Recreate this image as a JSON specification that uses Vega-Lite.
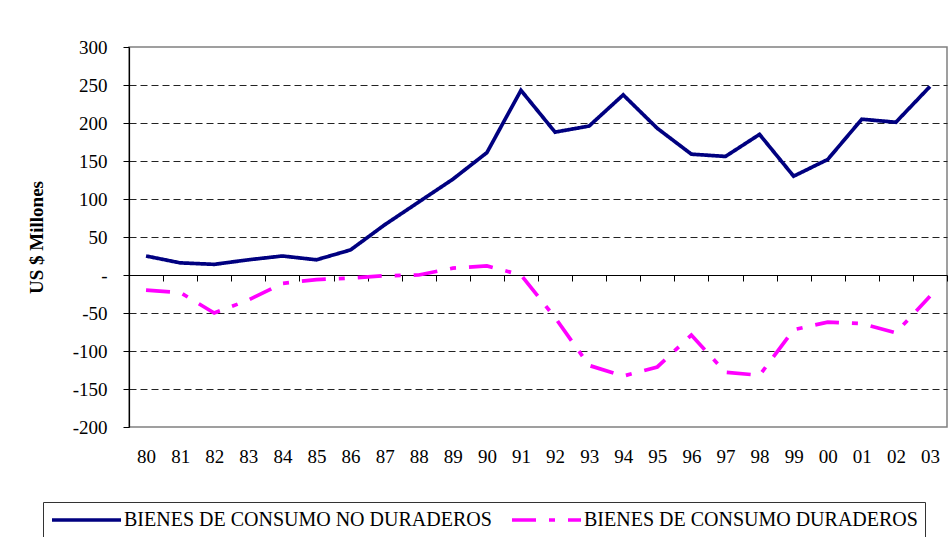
{
  "$schema": "https://vega.github.io/schema/vega-lite/v6.json",
  "width": 818,
  "height": 380,
  "autosize": {"type": "none"},
  "padding": {"left": 129, "top": 47, "right": 3, "bottom": 110},
  "background": "white",
  "config": {
    "view": {"stroke": "#808080", "strokeWidth": 1.5},
    "font": "Liberation Serif",
    "legend": {"labelFont": "Liberation Serif"},
    "axis": {"labelFont": "Liberation Serif", "titleFont": "Liberation Serif"}
  },
  "data": {
    "values": [
      {"yr": "80", "s": "BIENES DE CONSUMO NO DURADEROS", "v": 25},
      {"yr": "81", "s": "BIENES DE CONSUMO NO DURADEROS", "v": 16},
      {"yr": "82", "s": "BIENES DE CONSUMO NO DURADEROS", "v": 14},
      {"yr": "83", "s": "BIENES DE CONSUMO NO DURADEROS", "v": 20},
      {"yr": "84", "s": "BIENES DE CONSUMO NO DURADEROS", "v": 25},
      {"yr": "85", "s": "BIENES DE CONSUMO NO DURADEROS", "v": 20},
      {"yr": "86", "s": "BIENES DE CONSUMO NO DURADEROS", "v": 33},
      {"yr": "87", "s": "BIENES DE CONSUMO NO DURADEROS", "v": 66},
      {"yr": "88", "s": "BIENES DE CONSUMO NO DURADEROS", "v": 96},
      {"yr": "89", "s": "BIENES DE CONSUMO NO DURADEROS", "v": 126},
      {"yr": "90", "s": "BIENES DE CONSUMO NO DURADEROS", "v": 161},
      {"yr": "91", "s": "BIENES DE CONSUMO NO DURADEROS", "v": 243},
      {"yr": "92", "s": "BIENES DE CONSUMO NO DURADEROS", "v": 188},
      {"yr": "93", "s": "BIENES DE CONSUMO NO DURADEROS", "v": 196},
      {"yr": "94", "s": "BIENES DE CONSUMO NO DURADEROS", "v": 237},
      {"yr": "95", "s": "BIENES DE CONSUMO NO DURADEROS", "v": 193},
      {"yr": "96", "s": "BIENES DE CONSUMO NO DURADEROS", "v": 159},
      {"yr": "97", "s": "BIENES DE CONSUMO NO DURADEROS", "v": 156},
      {"yr": "98", "s": "BIENES DE CONSUMO NO DURADEROS", "v": 185},
      {"yr": "99", "s": "BIENES DE CONSUMO NO DURADEROS", "v": 130},
      {"yr": "00", "s": "BIENES DE CONSUMO NO DURADEROS", "v": 152},
      {"yr": "01", "s": "BIENES DE CONSUMO NO DURADEROS", "v": 205},
      {"yr": "02", "s": "BIENES DE CONSUMO NO DURADEROS", "v": 201},
      {"yr": "03", "s": "BIENES DE CONSUMO NO DURADEROS", "v": 248},
      {"yr": "80", "s": "BIENES DE CONSUMO DURADEROS", "v": -20},
      {"yr": "81", "s": "BIENES DE CONSUMO DURADEROS", "v": -23},
      {"yr": "82", "s": "BIENES DE CONSUMO DURADEROS", "v": -50},
      {"yr": "83", "s": "BIENES DE CONSUMO DURADEROS", "v": -33},
      {"yr": "84", "s": "BIENES DE CONSUMO DURADEROS", "v": -11},
      {"yr": "85", "s": "BIENES DE CONSUMO DURADEROS", "v": -6},
      {"yr": "86", "s": "BIENES DE CONSUMO DURADEROS", "v": -4},
      {"yr": "87", "s": "BIENES DE CONSUMO DURADEROS", "v": -1},
      {"yr": "88", "s": "BIENES DE CONSUMO DURADEROS", "v": 0},
      {"yr": "89", "s": "BIENES DE CONSUMO DURADEROS", "v": 9},
      {"yr": "90", "s": "BIENES DE CONSUMO DURADEROS", "v": 12},
      {"yr": "91", "s": "BIENES DE CONSUMO DURADEROS", "v": 0},
      {"yr": "92", "s": "BIENES DE CONSUMO DURADEROS", "v": -56},
      {"yr": "93", "s": "BIENES DE CONSUMO DURADEROS", "v": -119},
      {"yr": "94", "s": "BIENES DE CONSUMO DURADEROS", "v": -133},
      {"yr": "95", "s": "BIENES DE CONSUMO DURADEROS", "v": -121},
      {"yr": "96", "s": "BIENES DE CONSUMO DURADEROS", "v": -79},
      {"yr": "97", "s": "BIENES DE CONSUMO DURADEROS", "v": -128},
      {"yr": "98", "s": "BIENES DE CONSUMO DURADEROS", "v": -132},
      {"yr": "99", "s": "BIENES DE CONSUMO DURADEROS", "v": -72},
      {"yr": "00", "s": "BIENES DE CONSUMO DURADEROS", "v": -62},
      {"yr": "01", "s": "BIENES DE CONSUMO DURADEROS", "v": -64},
      {"yr": "02", "s": "BIENES DE CONSUMO DURADEROS", "v": -76},
      {"yr": "03", "s": "BIENES DE CONSUMO DURADEROS", "v": -28}
    ]
  },
  "mark": {"type": "line", "strokeWidth": 3.7},
  "encoding": {
    "x": {
      "field": "yr",
      "type": "ordinal",
      "sort": ["80","81","82","83","84","85","86","87","88","89","90","91","92","93","94","95","96","97","98","99","00","01","02","03"],
      "scale": {"type": "band", "paddingInner": 0, "paddingOuter": 0},
      "axis": {
        "title": null,
        "orient": "bottom",
        "offset": -152,
        "domainColor": "black",
        "domainWidth": 1.2,
        "tickColor": "black",
        "tickSize": 6,
        "tickBand": "extent",
        "labelAngle": 0,
        "labelFontSize": 19,
        "labelColor": "black",
        "labelPadding": 166,
        "labelBaseline": "top",
        "grid": false
      }
    },
    "y": {
      "field": "v",
      "type": "quantitative",
      "scale": {"domain": [-200, 300], "nice": false, "zero": false},
      "axis": {
        "title": "US $ Millones",
        "titleFontSize": 19,
        "titleFontWeight": "bold",
        "titleColor": "black",
        "titlePadding": 26,
        "values": [-200, -150, -100, -50, 0, 50, 100, 150, 200, 250, 300],
        "labelExpr": "datum.value == 0 ? '-    ' : (datum.value < 0 ? '-' + abs(datum.value) : '' + datum.value)",
        "labelFontSize": 19,
        "labelColor": "black",
        "labelPadding": 16,
        "tickSize": 6,
        "tickColor": "black",
        "domainColor": "black",
        "domainWidth": 1.2,
        "grid": true,
        "gridColor": "#222222",
        "gridDash": [7, 4],
        "gridOpacity": {"condition": {"test": "datum.value == 0 || datum.value == 300 || datum.value == -200", "value": 0}, "value": 1}
      }
    },
    "color": {
      "field": "s",
      "type": "nominal",
      "scale": {"domain": ["BIENES DE CONSUMO NO DURADEROS", "BIENES DE CONSUMO DURADEROS"], "range": ["#000080", "#FF00FF"]},
      "legend": {
        "orient": "none", "legendX": -86, "legendY": 455, "direction": "horizontal", "title": null,
        "strokeColor": "#333333", "padding": 7, "symbolType": "M-1,0H6.67", "symbolSize": 324,
        "symbolStrokeWidth": 3.7, "labelFont": "Liberation Serif", "labelFontSize": 20, "labelColor": "black", "labelOffset": 52,
        "columnPadding": 12, "labelLimit": 0
      }
    },
    "strokeDash": {
      "field": "s",
      "type": "nominal",
      "scale": {"domain": ["BIENES DE CONSUMO NO DURADEROS", "BIENES DE CONSUMO DURADEROS"], "range": [[1, 0], [24, 13, 6, 13]]},
      "legend": {
        "orient": "none", "legendX": -86, "legendY": 455, "direction": "horizontal", "title": null,
        "strokeColor": "#333333", "padding": 7, "symbolType": "M-1,0H6.67", "symbolSize": 324,
        "symbolStrokeWidth": 3.7, "labelFont": "Liberation Serif", "labelFontSize": 20, "labelColor": "black", "labelOffset": 52,
        "columnPadding": 12, "labelLimit": 0
      }
    }
  }
}
